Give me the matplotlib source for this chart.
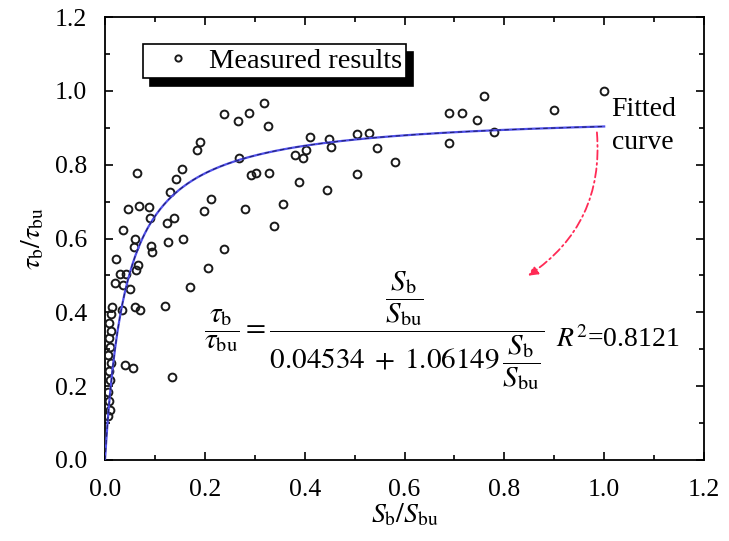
import numpy as np
import matplotlib
matplotlib.use("Agg")
import matplotlib.pyplot as plt
from matplotlib.ticker import MultipleLocator

plt.rcParams['font.family'] = ['Liberation Serif', 'DejaVu Serif']
plt.rcParams['mathtext.fontset'] = 'stix'

# Measured results (S_b/S_bu, tau_b/tau_bu)
sx = [1.00, 0.90, 0.76, 0.69, 0.715, 0.745, 0.78, 0.69, 0.505, 0.528, 0.545, 0.58, 0.505,
      0.41, 0.448, 0.452, 0.38, 0.397, 0.402, 0.389, 0.444, 0.356, 0.338, 0.329, 0.292, 0.302,
      0.268, 0.280, 0.239, 0.266, 0.289, 0.319, 0.326, 0.239, 0.206, 0.199, 0.213, 0.171,
      0.190, 0.185, 0.155, 0.142, 0.130, 0.139, 0.125, 0.127, 0.157, 0.120, 0.134,
      0.069, 0.088, 0.090, 0.092, 0.094, 0.065, 0.046, 0.037, 0.060, 0.058, 0.066, 0.063,
      0.051, 0.042, 0.031, 0.023, 0.021, 0.036, 0.060, 0.070, 0.034, 0.014, 0.040, 0.056,
      0.012, 0.009, 0.013, 0.008, 0.011, 0.007, 0.012, 0.009, 0.010, 0.006, 0.008, 0.010, 0.007]
sy = [1.00, 0.947, 0.985, 0.940, 0.940, 0.922, 0.888, 0.860, 0.882, 0.885, 0.845, 0.808, 0.775,
      0.875, 0.870, 0.848, 0.825, 0.818, 0.840, 0.752, 0.732, 0.693, 0.633, 0.778, 0.772, 0.778,
      0.817, 0.680, 0.937, 0.917, 0.940, 0.966, 0.905, 0.571, 0.520, 0.675, 0.708, 0.468,
      0.862, 0.840, 0.788, 0.760, 0.725, 0.655, 0.643, 0.590, 0.600, 0.418, 0.226,
      0.687, 0.685, 0.655, 0.580, 0.563, 0.778, 0.680, 0.622, 0.598, 0.578, 0.528, 0.515,
      0.462, 0.505, 0.505, 0.545, 0.480, 0.475, 0.415, 0.405, 0.405, 0.415, 0.258, 0.250,
      0.395, 0.372, 0.350, 0.330, 0.305, 0.285, 0.262, 0.240, 0.218, 0.185, 0.160, 0.135, 0.118]

# Fitted curve coefficients (from the equation in the chart)
fit_a = 0.04534
fit_b = 1.06149
fit_x = np.linspace(0.0, 1.0, 400)
fit_y = fit_x / (fit_a + fit_b * fit_x)

xticks = [0.0, 0.2, 0.4, 0.6, 0.8, 1.0, 1.2]
yticks = [0.0, 0.2, 0.4, 0.6, 0.8, 1.0, 1.2]

fig = plt.figure(figsize=(7.29, 5.41), dpi=100)
ax = fig.add_axes([105/729, 1-460/541, (704-105)/729, (460-17)/541])

ax.plot(sx, sy, linestyle='none', marker='o', markersize=5.6, markerfacecolor='none',
        markeredgecolor='#1a1a1a', markeredgewidth=1.4, label='Measured results', zorder=3)
ax.plot(fit_x, fit_y, color='#5050ea', lw=1.6, zorder=4)
ax.plot(fit_x, fit_y, color='#202070', lw=0.8, dashes=(4, 3), zorder=5)

ax.set_xlim(0, 1.2)
ax.set_ylim(0, 1.2)
ax.set_xticks(xticks)
ax.set_yticks(yticks)
ax.set_xticklabels([f'{v:.1f}' for v in xticks])
ax.set_yticklabels([f'{v:.1f}' for v in yticks])
ax.xaxis.set_minor_locator(MultipleLocator(0.1))
ax.yaxis.set_minor_locator(MultipleLocator(0.1))
ax.tick_params(which='both', direction='in', top=True, right=True, width=1.2, labelsize=18.5)
ax.tick_params(which='major', length=6)
ax.tick_params(which='minor', length=3.5)
ax.tick_params(axis='x', pad=14)
ax.tick_params(axis='y', pad=13)
for s in ax.spines.values():
    s.set_linewidth(1.3)

ax.set_xlabel(r'$S_{\rm b}/S_{\rm bu}$', fontsize=20, labelpad=0)
ax.set_ylabel(r'$\tau_{\rm b}/\tau_{\rm bu}$', fontsize=20, labelpad=6)

leg = ax.legend(loc='upper left', bbox_to_anchor=(0.063, 0.938), borderaxespad=0,
                frameon=True, fancybox=False, edgecolor='black', fontsize=20.5,
                handletextpad=0.0, handlelength=2.2, borderpad=0.14, markerscale=0.8,
                shadow={'color': 'black', 'alpha': 1, 'ox': 5, 'oy': -5.5})
leg.get_frame().set_linewidth(1.2)
leg.get_frame().set_alpha(1)

ax.text(1.015, 0.905, 'Fitted\ncurve', fontsize=20, va='center', ha='left', linespacing=1.45)

# red dashed curved arrow
ax.annotate('', xy=(0.843, 0.495), xytext=(0.985, 0.895),
            arrowprops=dict(arrowstyle='-|>', color='#ff2a55', lw=1.3, linestyle=(0, (5, 2, 1, 2)),
                            connectionstyle='arc3,rad=-0.3', mutation_scale=14))

eq = (r'$\dfrac{\tau_{\rm b}}{\tau_{\rm bu}}=\dfrac{\dfrac{S_{\rm b}}{S_{\rm bu}}}'
      r'{0.04534\;+\;1.06149\,\dfrac{S_{\rm b}}{S_{\rm bu}}}$')
ax.text(0.199, 0.35, eq, fontsize=21, va='center', ha='left')
ax.text(0.903, 0.325, r'$R^2$=0.8121', fontsize=20, va='center', ha='left')

fig.savefig('out.png', dpi=100)
